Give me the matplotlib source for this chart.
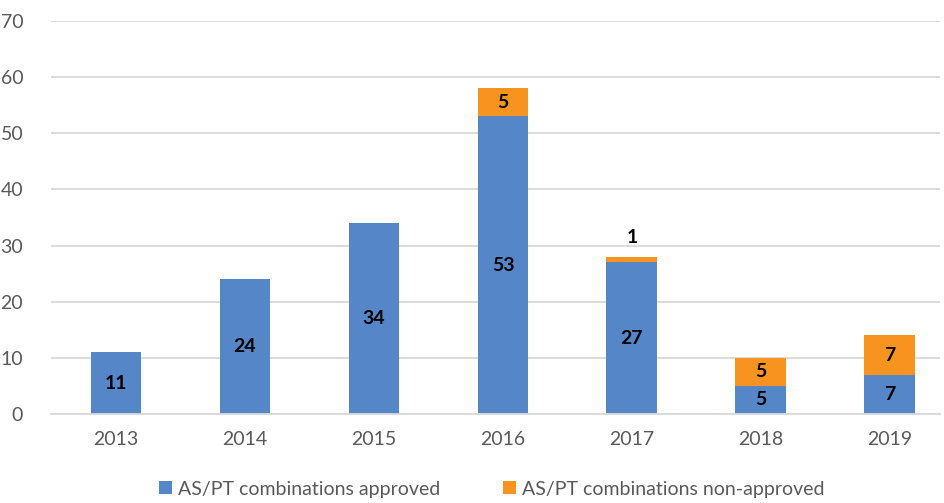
import numpy as np
from matplotlib import pyplot as plt

YEARS = ['2013', '2014', '2015', '2016', '2017', '2018', '2019']
APPROVED = [11, 24, 34, 53, 27, 5, 7]
NON_APPROVED = [0, 0, 0, 5, 1, 5, 7]
BLUE = '#5486C8'
ORANGE = '#F7941F'
WIDTH = 0.395


def label_bars(x, bottoms, heights, outside=()):
    for i in range(len(x)):
        if heights[i] == 0:
            continue
        if i in outside:
            y = bottoms[i] + heights[i] + 3.5
        else:
            y = bottoms[i] + heights[i] / 2
        plt.text(x[i], y, str(heights[i]), ha='center', va='center',
                 fontsize=14, fontweight='bold', color='black')


if __name__ == '__main__':
    plt.rcParams['font.family'] = ['Lato', 'DejaVu Sans']
    x = np.arange(len(YEARS))

    plt.figure(figsize=(9.45, 5.03), dpi=100)
    plt.axes([51 / 945, 89 / 503, 889 / 945, 393 / 503])
    plt.bar(x, APPROVED, WIDTH, color=BLUE, label='AS/PT combinations approved', zorder=3)
    plt.bar(x, NON_APPROVED, WIDTH, bottom=APPROVED, color=ORANGE,
            label='AS/PT combinations non-approved', zorder=3)
    label_bars(x, [0] * len(x), APPROVED)
    label_bars(x, APPROVED, NON_APPROVED, outside=(4,))

    plt.xlim(-0.504, 6.388)
    plt.ylim(0, 70)
    plt.yticks(range(0, 71, 10))
    plt.xticks(x, YEARS)
    plt.grid(axis='y', color='#D9D9D9', linewidth=1.3, zorder=0)
    ax = plt.gca()
    for side in ['top', 'right', 'left']:
        ax.spines[side].set_visible(False)
    ax.spines['bottom'].set_color('#D9D9D9')
    ax.spines['bottom'].set_linewidth(1.3)
    ax.spines['bottom'].set_zorder(4)
    plt.tick_params(axis='both', length=0, labelsize=14, labelcolor='#595959')
    plt.tick_params(axis='x', pad=12)
    plt.tick_params(axis='y', pad=20)
    plt.legend(loc='upper center', bbox_to_anchor=(0.496, -0.125), ncol=2, frameon=False,
               fontsize=14, handlelength=0.65, handleheight=0.65, columnspacing=3.2,
               handletextpad=0.35, labelcolor='#595959')
    plt.savefig('out.png')
